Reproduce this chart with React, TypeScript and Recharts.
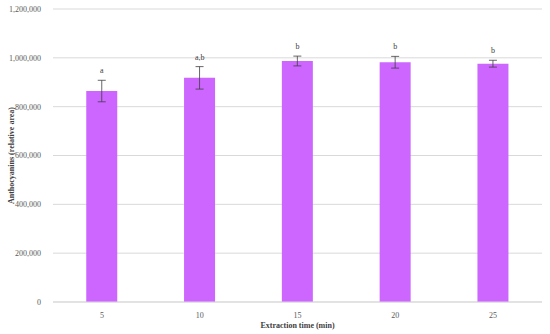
import React from 'react';
import { ComposedChart, Bar, Line, XAxis, YAxis, CartesianGrid, ErrorBar, LabelList, Label } from 'recharts';

const categories = ['5', '10', '15', '20', '25'];
const values = [864000, 918000, 987000, 982000, 976000];
const errors = [44000, 46000, 20000, 24000, 14000];
const letters = ['a', 'a,b', 'b', 'b', 'b'];
const yTicks = [0, 200000, 400000, 600000, 800000, 1000000, 1200000];

const data = categories.map((c, i) => ({
  cat: c,
  value: values[i],
  err: errors[i],
  top: values[i] + errors[i],
  letter: letters[i],
}));

const font = '"Liberation Serif", "DejaVu Serif", serif';
const fmt = (v: number) => v.toLocaleString('en-US');

const YTitle = (props: any) => {
  const vb = props.viewBox || {};
  const cx = 11;
  const cy = (vb.y ?? 9) + (vb.height ?? 293) / 2;
  return (
    <text x={cx} y={cy} transform={`rotate(-90, ${cx}, ${cy})`} textAnchor="middle" dominantBaseline="central"
      fontSize={8} fontWeight="bold" fill="#404040" fontFamily={font}>
      Anthocyanins (relative area)
    </text>
  );
};

const Letter = (props: any) => {
  const { x, y, value } = props;
  return (
    <text x={x} y={y - 7} textAnchor="middle" fontSize={8} fill="#404040" fontFamily={font}>
      {value}
    </text>
  );
};

export default function App() {
  return (
    <div style={{ position: 'absolute', left: 0, top: 0, background: '#fff' }}>
      <ComposedChart width={550} height={334} data={data} margin={{ top: 9, right: 8, bottom: 2, left: 0 }} barCategoryGap="34%">
        <CartesianGrid vertical={false} stroke="#d9d9d9" strokeWidth={1} />
        <XAxis
          dataKey="cat"
          height={30}
          axisLine={{ stroke: '#d9d9d9' }}
          tickLine={false}
          tick={{ fontSize: 8, fill: '#595959', fontFamily: font }}
          tickMargin={4}
          label={{ value: 'Extraction time (min)', position: 'insideBottom', offset: 4, fontSize: 8, fontWeight: 'bold', fill: '#404040', fontFamily: font }}
        />
        <YAxis
          width={53}
          domain={[0, 1200000]}
          ticks={yTicks}
          axisLine={false}
          tickLine={false}
          tickFormatter={fmt}
          tick={{ fontSize: 8, fill: '#595959', fontFamily: font }}
          tickMargin={6}
        >
          <Label content={<YTitle />} />
        </YAxis>
        <Bar dataKey="value" fill="#CC66FF" isAnimationActive={false}>
          <ErrorBar dataKey="err" width={4} stroke="#404040" strokeWidth={0.8} direction="y" />
        </Bar>
        <Line dataKey="top" stroke="none" dot={false} activeDot={false} isAnimationActive={false}>
          <LabelList dataKey="letter" content={<Letter />} />
        </Line>
      </ComposedChart>
    </div>
  );
}
